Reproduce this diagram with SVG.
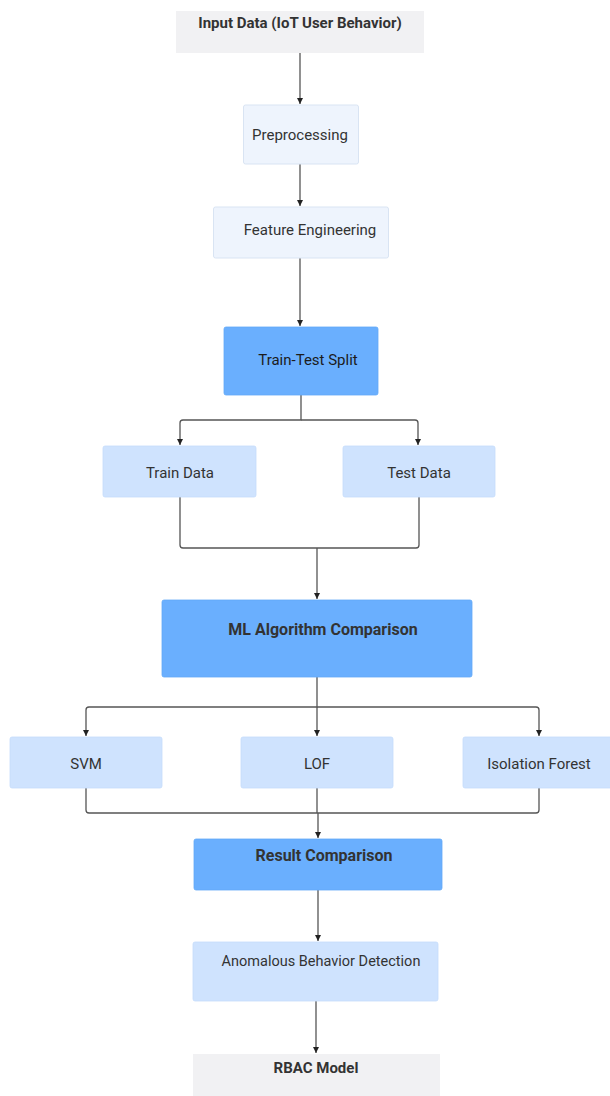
<svg xmlns="http://www.w3.org/2000/svg" width="610" height="1096" viewBox="0 0 610 1096">
<style>
.bg{fill:#ffffff}
.gray{fill:#f1f1f3}
.pale{fill:#eef4fd;stroke:#d9e4f3;stroke-width:1}
.light{fill:#cfe3fe;stroke:#c5dcfb;stroke-width:0.8}
.blue{fill:#6aaffe;stroke:#62a8f8;stroke-width:0.8}
text{font-family:Roboto,"Liberation Sans",sans-serif;font-size:15px;fill:#333;text-anchor:middle}
.b{font-weight:bold}
.big{font-size:16px}
.dk{fill:#1c1c1c}
.c{fill:none;stroke:#555;stroke-width:1.3;stroke-linejoin:round}
</style>
<defs>
<marker id="ah" markerWidth="8" markerHeight="8" refX="6" refY="4" orient="auto" markerUnits="userSpaceOnUse">
<path d="M0,1 L6,4 L0,7 Z" fill="#222"/>
</marker>
</defs>
<rect class="bg" x="0" y="0" width="610" height="1096"/>
<g id="connectors">
<path class="c" d="M300,53 V104" marker-end="url(#ah)"/>
<path class="c" d="M300,164 V206" marker-end="url(#ah)"/>
<path class="c" d="M300,258 V326" marker-end="url(#ah)"/>
<path class="c" d="M301,395 V420 H183 Q180,420 180,423 V445" marker-end="url(#ah)"/>
<path class="c" d="M301,420 H415 Q418,420 418,423 V445" marker-end="url(#ah)"/>
<path class="c" d="M180,497 V545 Q180,548 183,548 H416 Q419,548 419,545 V497"/>
<path class="c" d="M317,548 V599" marker-end="url(#ah)"/>
<path class="c" d="M317,677 V707 H89 Q86,707 86,710 V736" marker-end="url(#ah)"/>
<path class="c" d="M317,707 V736" marker-end="url(#ah)"/>
<path class="c" d="M317,707 H536 Q539,707 539,710 V736" marker-end="url(#ah)"/>
<path class="c" d="M86,788 V810 Q86,813 89,813 H536 Q539,813 539,810 V788"/>
<path class="c" d="M317,788 V813"/>
<path class="c" d="M318,813 V838" marker-end="url(#ah)"/>
<path class="c" d="M318,890 V941" marker-end="url(#ah)"/>
<path class="c" d="M316,1001 V1053" marker-end="url(#ah)"/>
</g>
<g id="input">
<rect class="gray" x="176" y="11" width="248" height="42"/>
<text class="b" x="300" y="28">Input Data (IoT User Behavior)</text>
</g>
<g id="preprocessing">
<rect class="pale" x="243.5" y="105" width="115" height="59" rx="2"/>
<text x="300" y="140">Preprocessing</text>
</g>
<g id="feature">
<rect class="pale" x="213.5" y="207" width="175" height="51" rx="2"/>
<text x="310" y="235">Feature Engineering</text>
</g>
<g id="split">
<rect class="blue" x="224" y="327" width="154" height="68" rx="2"/>
<text class="dk" x="308" y="365">Train-Test Split</text>
</g>
<g id="train">
<rect class="light" x="103" y="446" width="153" height="51" rx="2"/>
<text x="180" y="478">Train Data</text>
</g>
<g id="test">
<rect class="light" x="343" y="446" width="152" height="51" rx="2"/>
<text x="419" y="478">Test Data</text>
</g>
<g id="mlcomp">
<rect class="blue" x="162" y="600" width="310" height="77" rx="2"/>
<text class="b big" x="323" y="635">ML Algorithm Comparison</text>
</g>
<g id="svm">
<rect class="light" x="10" y="737" width="152" height="51" rx="2"/>
<text x="86" y="769">SVM</text>
</g>
<g id="lof">
<rect class="light" x="241" y="737" width="152" height="51" rx="2"/>
<text x="317" y="769">LOF</text>
</g>
<g id="iforest">
<rect class="light" x="463" y="737" width="152" height="51" rx="2"/>
<text x="539" y="769">Isolation Forest</text>
</g>
<g id="result">
<rect class="blue" x="194" y="839" width="248" height="51" rx="2"/>
<text class="b big" x="324" y="861">Result Comparison</text>
</g>
<g id="anomaly">
<rect class="light" x="193" y="942" width="245" height="59" rx="2"/>
<text x="321" y="966" style="font-size:14.5px">Anomalous Behavior Detection</text>
</g>
<g id="rbac">
<rect class="gray" x="193" y="1054" width="247" height="42"/>
<text class="b" x="316" y="1073">RBAC Model</text>
</g>
</svg>
